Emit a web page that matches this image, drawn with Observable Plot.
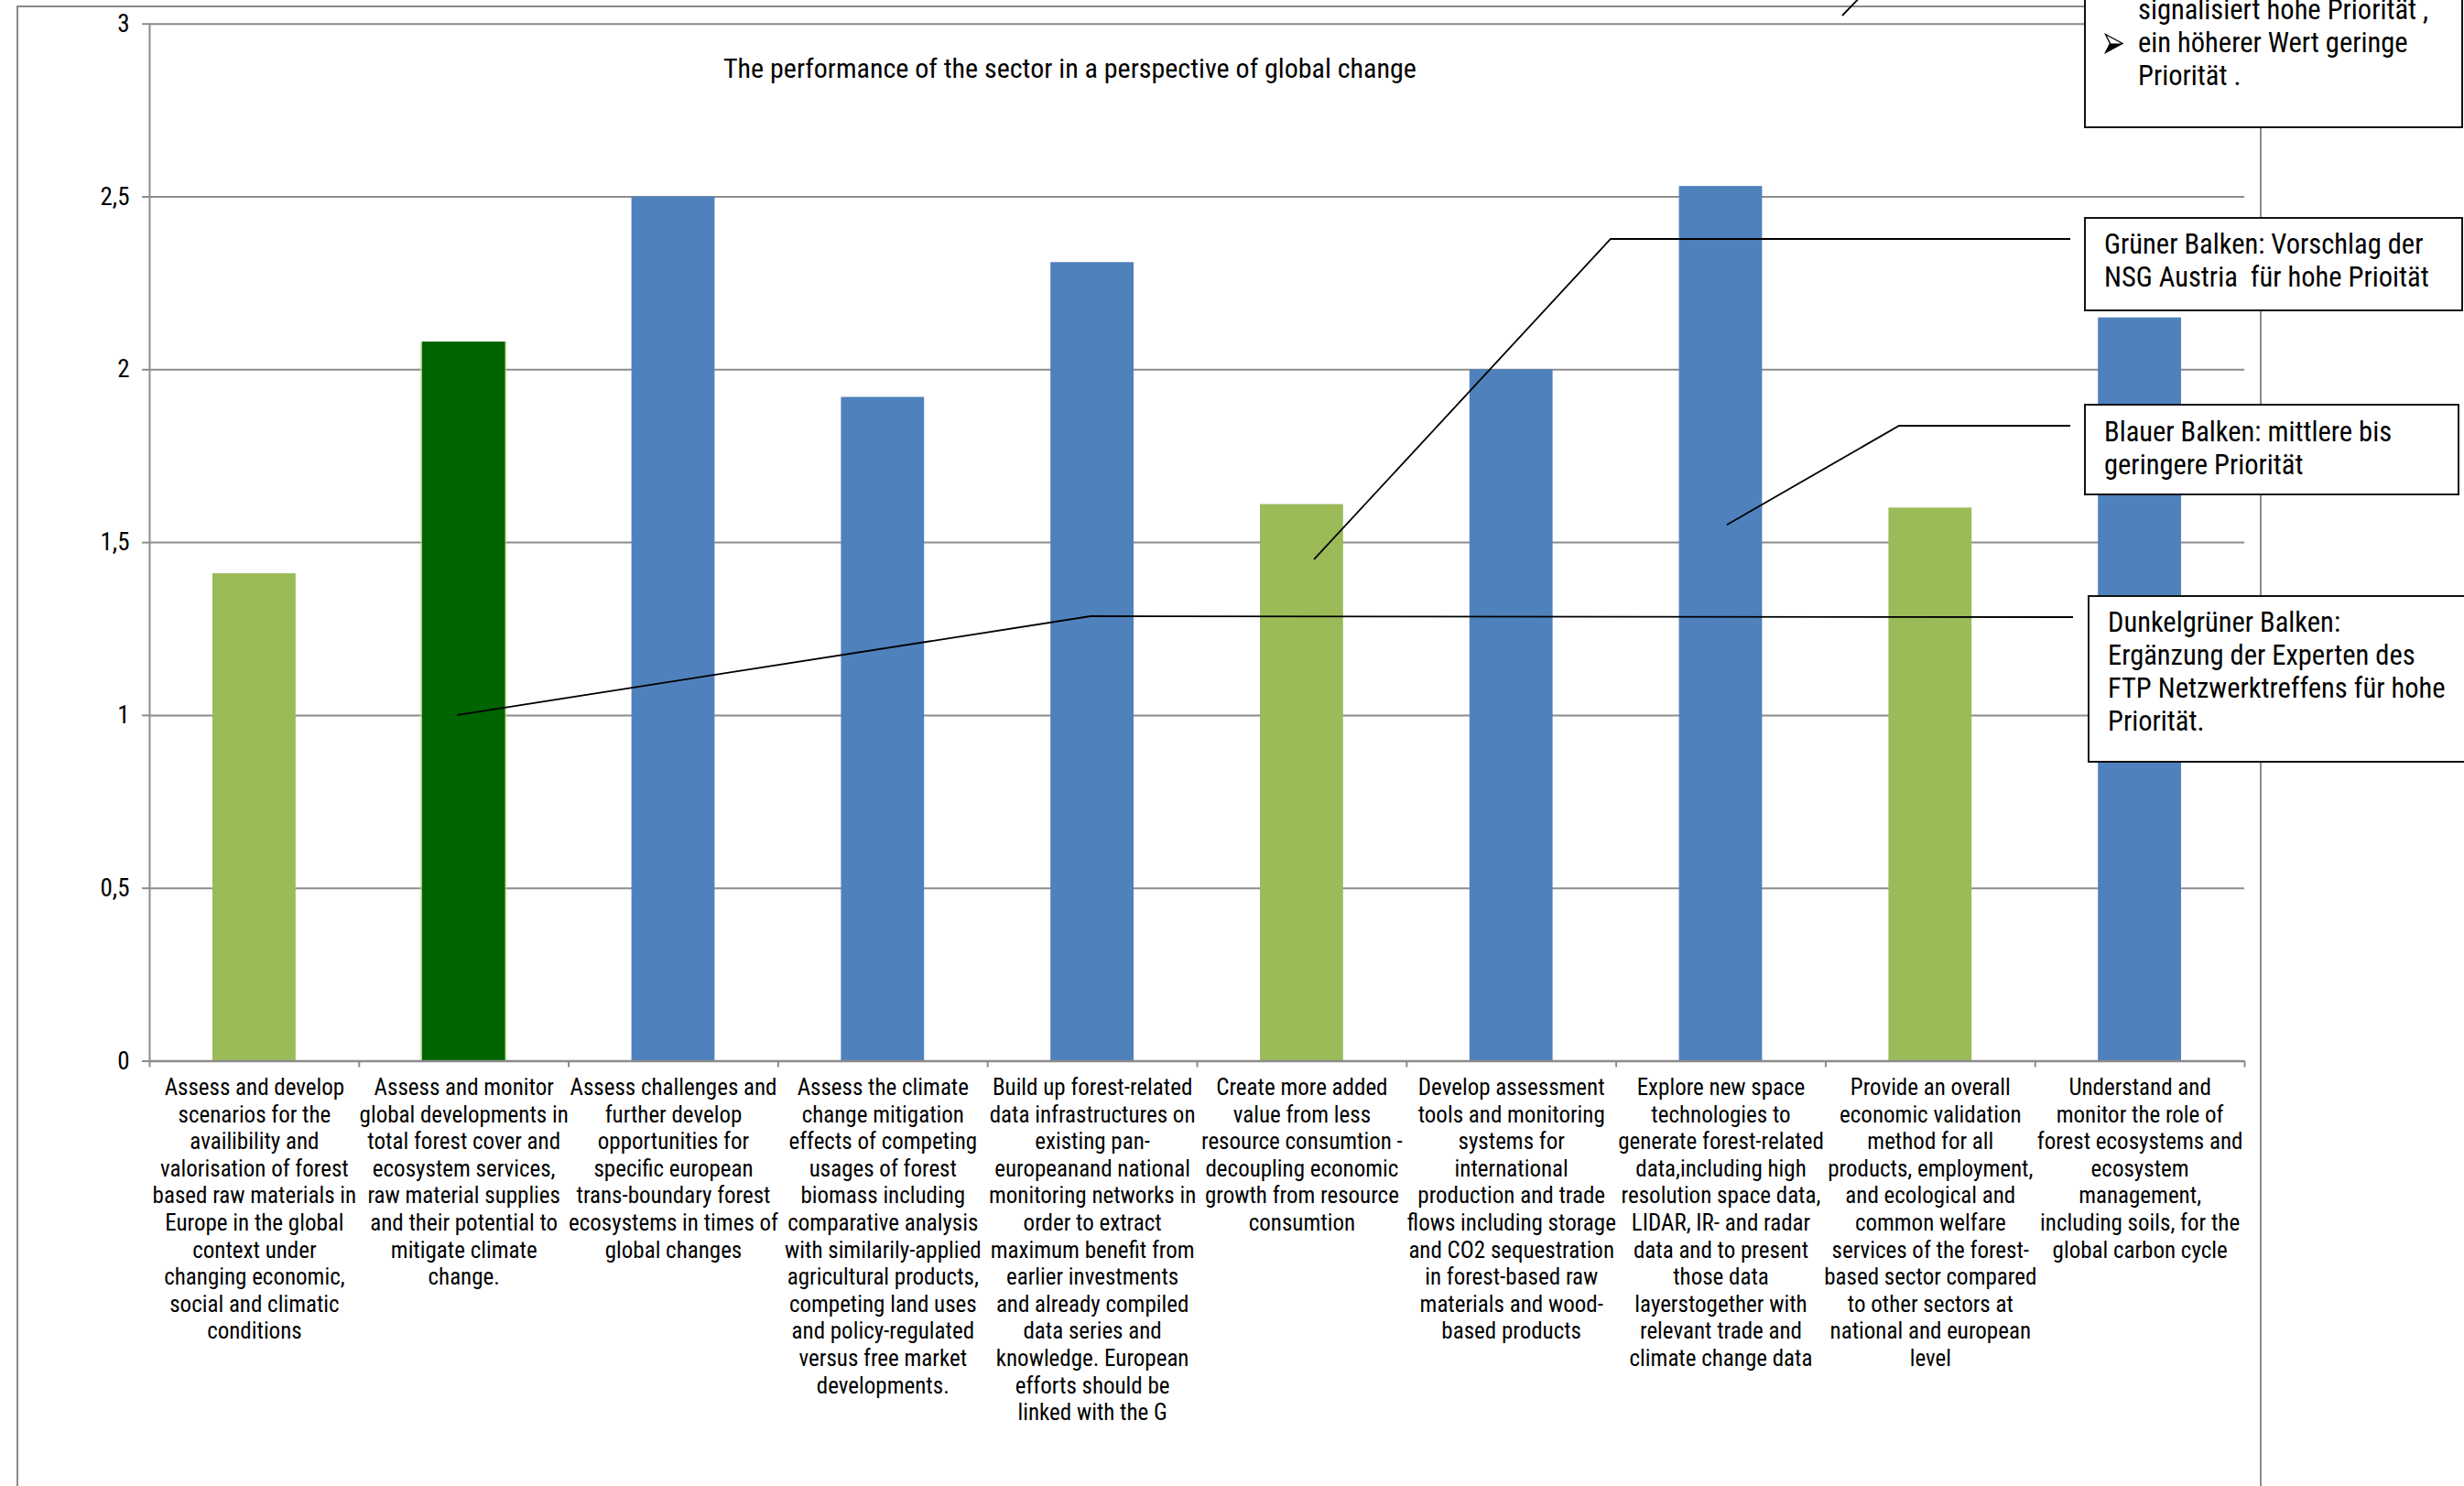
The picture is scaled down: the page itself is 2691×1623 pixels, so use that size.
<!DOCTYPE html>
<html><head><meta charset="utf-8">
<script src="https://cdn.jsdelivr.net/npm/d3@7"></script>
<script src="https://cdn.jsdelivr.net/npm/@observablehq/plot@0.6"></script>
<style>
html,body{margin:0;padding:0;background:#fff;}
#wrap{position:relative;width:2691px;height:1623px;overflow:hidden;font-family:"Liberation Sans Narrow","Arial Narrow","Roboto Condensed","DejaVu Sans Condensed",sans-serif;color:#000;}
#frame{position:absolute;left:18px;top:6px;width:2452px;height:1700px;border:2px solid #8a8a8a;border-bottom:none;box-sizing:border-box;}
#chart{position:absolute;left:0;top:0;}
#title{position:absolute;left:790px;top:58px;font-size:30px;line-height:34px;white-space:nowrap;}
#leaders{position:absolute;left:0;top:0;}
.box{position:absolute;background:#fff;border:2.5px solid #111;box-sizing:border-box;font-size:30.5px;line-height:36px;}
.box .t{position:absolute;white-space:pre;}
.box svg{position:absolute;}
</style></head>
<body><div id="wrap"><div id="frame"></div></div>
<script>
// ---- data ----
const categories = [
  "Assess and develop\nscenarios for the\navailibility and\nvalorisation of forest\nbased raw materials in\nEurope in the global\ncontext under\nchanging economic,\nsocial and climatic\nconditions",
  "Assess and monitor\nglobal developments in\ntotal forest cover and\necosystem services,\nraw material supplies\nand their potential to\nmitigate climate\nchange.",
  "Assess challenges and\nfurther develop\nopportunities for\nspecific european\ntrans-boundary forest\necosystems in times of\nglobal changes",
  "Assess the climate\nchange mitigation\neffects of competing\nusages of forest\nbiomass including\ncomparative analysis\nwith similarily-applied\nagricultural products,\ncompeting land uses\nand policy-regulated\nversus free market\ndevelopments.",
  "Build up forest-related\ndata infrastructures on\nexisting pan-\neuropeanand national\nmonitoring networks in\norder to extract\nmaximum benefit from\nearlier investments\nand already compiled\ndata series and\nknowledge. European\nefforts should be\nlinked with the G",
  "Create more added\nvalue from less\nresource consumtion -\ndecoupling economic\ngrowth from resource\nconsumtion",
  "Develop assessment\ntools and monitoring\nsystems for\ninternational\nproduction and trade\nflows including storage\nand CO2 sequestration\nin forest-based raw\nmaterials and wood-\nbased products",
  "Explore new space\ntechnologies to\ngenerate forest-related\ndata,including high\nresolution space data,\nLIDAR, IR- and radar\ndata and to present\nthose data\nlayerstogether with\nrelevant trade and\nclimate change data",
  "Provide an overall\neconomic validation\nmethod for all\nproducts, employment,\nand ecological and\ncommon welfare\nservices of the forest-\nbased sector compared\nto other sectors at\nnational and european\nlevel",
  "Understand and\nmonitor the role of\nforest ecosystems and\necosystem\nmanagement,\nincluding soils, for the\nglobal carbon cycle"
];
const values = [1.41, 2.08, 2.5, 1.92, 2.31, 1.61, 2.0, 2.53, 1.6, 2.15];
const groups = ["Grün","Dunkelgrün","Blau","Blau","Blau","Grün","Blau","Blau","Grün","Blau"];
const groupNames = ["Grün","Dunkelgrün","Blau"];
const groupColors = ["#9BBB59","#006400","#4F81BD"];
const yTicks = [0, 0.5, 1, 1.5, 2, 2.5, 3];
const title = "The performance of the sector in a perspective of global change";
const boxA = ["signalisiert hohe Priorität ,", "ein höherer Wert geringe", "Priorität ."];
const boxB = ["Grüner Balken: Vorschlag der", "NSG Austria  für hohe Prioität"];
const boxC = ["Blauer Balken: mittlere bis", "geringere Priorität"];
const boxD = ["Dunkelgrüner Balken:", "Ergänzung der Experten des", "FTP Netzwerktreffens für hohe", "Priorität."];

// ---- chart ----
const gray = "#8c8c8c";
const idx = d3.range(values.length);
const chart = Plot.plot({
  width: 2691, height: 1623,
  marginLeft: 163, marginRight: 240, marginTop: 25.7, marginBottom: 464.5,
  style: {background: "transparent", fontFamily: "'Liberation Sans Narrow','Arial Narrow','Roboto Condensed','DejaVu Sans Condensed',sans-serif", color: "#000"},
  x: {type: "linear", domain: [0, values.length], axis: null},
  y: {domain: [0, 3], axis: null},
  color: {domain: groupNames, range: groupColors},
  marks: [
    Plot.gridY(yTicks, {stroke: gray, strokeOpacity: 1, strokeWidth: 2}),
    Plot.rect(idx, {filter: i => groups[i] === "Dunkelgrün", x1: i => i, x2: i => i + 1, y1: 0, y2: i => values[i],
      insetLeft: 67, insetRight: 67, fill: "#b9d98f", fillOpacity: 0.6}),
    Plot.rect(idx, {x1: i => i, x2: i => i + 1, y1: 0, y2: i => values[i], fill: i => groups[i], insetLeft: 69, insetRight: 69}),
    Plot.ruleX([0], {stroke: gray, strokeWidth: 2}),
    Plot.ruleY([0], {stroke: gray, strokeWidth: 2.5}),
    Plot.axisY(yTicks, {tickSize: 8, tickPadding: 14, fontSize: 27, stroke: gray, strokeWidth: 2, fill: "#000",
      tickFormat: d => String(d).replace(".", ","), label: null}),
    Plot.axisX(d3.range(values.length + 1), {tickSize: 7, stroke: gray, strokeWidth: 2, tickFormat: () => "", label: null}),
    Plot.text(idx, {x: i => i + 0.5, y: 0, text: i => categories[i], lineAnchor: "top", dy: 16,
      fontSize: 25, lineHeight: 29.6 / 25, fill: "#000"})
  ]
});
chart.id = "chart";
const wrap = document.getElementById("wrap");
wrap.appendChild(chart);

const t = document.createElement("div");
t.id = "title"; t.textContent = title;
wrap.appendChild(t);

// ---- leader lines (anchors from the chart's scales) ----
const X = v => chart.scale("x").apply(v), Y = v => chart.scale("y").apply(v);
const leaders = [
  [[2012, 17], [2040, -12]],
  [[2261, 261], [1759, 261], [X(5.56), Y(1.45)]],
  [[2261, 465], [2074, 465], [X(7.53), Y(1.55)]],
  [[2264, 674], [1191, 673], [X(1.47), Y(1.0)]]
];
const svg = d3.select(wrap).append("svg").attr("id", "leaders").attr("width", 2691).attr("height", 1623);
svg.selectAll("path").data(leaders).join("path")
  .attr("d", d3.line()).attr("fill", "none").attr("stroke", "#000").attr("stroke-width", 1.8);

// ---- annotation boxes ----
function box(lines, left, top, width, height, textLeft, textTop, bullets) {
  const b = document.createElement("div");
  b.className = "box";
  Object.assign(b.style, {left: left + "px", top: top + "px", width: width + "px", height: height + "px"});
  lines.forEach((s, k) => {
    const e = document.createElement("div");
    e.className = "t"; e.textContent = s;
    Object.assign(e.style, {left: textLeft + "px", top: (textTop + k * 36) + "px"});
    b.appendChild(e);
  });
  (bullets || []).forEach(k => {
    const s = d3.select(b).append("svg")
      .style("left", (textLeft - 37) + "px").style("top", (textTop + k * 36 + 7) + "px")
      .attr("width", 22).attr("height", 24);
    s.append("path").attr("d", "M1.5,1.5 L20,11.5 L1.5,21.5 L6.5,11.5 Z")
      .attr("fill", "#fff").attr("stroke", "#000").attr("stroke-width", 1.4).attr("stroke-linejoin", "miter");
    s.append("path").attr("d", "M6.5,11.5 L20,11.5 L1.5,21.5 Z").attr("fill", "#000");
  });
  wrap.appendChild(b);
}
box(boxA, 2276, -30, 414, 170, 57, 21, [1]);
box(boxB, 2276, 237, 414, 103, 20, 10);
box(boxC, 2276, 441, 410, 100, 20, 11);
box(boxD, 2280, 650, 420, 183, 20, 10);
</script></body></html>
